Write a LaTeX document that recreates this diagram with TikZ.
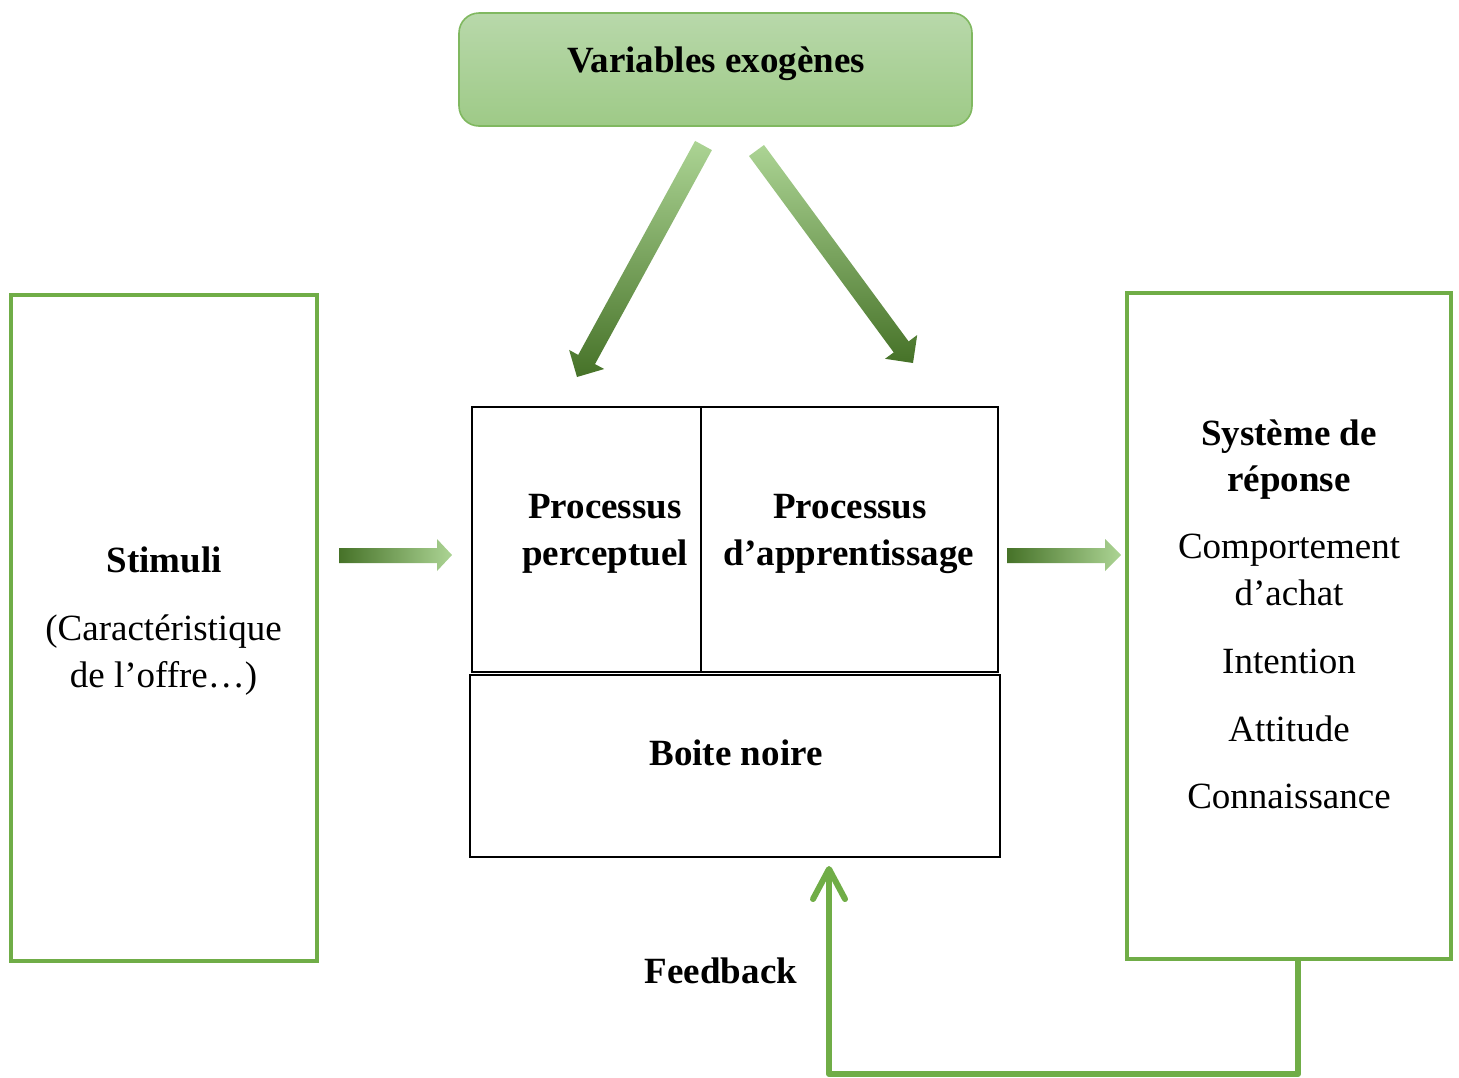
\documentclass[tikz,border=0pt]{standalone}
\usepackage{fontspec}
\setmainfont{Liberation Serif}
\usetikzlibrary{arrows.meta}

\definecolor{grn}{RGB}{112,173,71}
\definecolor{grnDark}{RGB}{70,114,40}
\definecolor{grnLight}{RGB}{172,212,148}
\definecolor{topFillA}{RGB}{184,216,170}
\definecolor{topFillB}{RGB}{158,202,135}
\definecolor{topEdge}{RGB}{128,184,96}

\begin{document}
\begin{tikzpicture}[x=0.5pt,y=-0.5pt,
  every node/.style={inner sep=0pt, outer sep=0pt},
  plaintext/.style={font=\fontsize{18.5}{22}\selectfont, anchor=base},
  boldtext/.style={font=\fontsize{18.5}{22}\selectfont\bfseries, anchor=base},
  greenbox/.style={draw=grn, line width=2pt},
  blackbox/.style={draw=black, line width=1.3pt},
  topbox/.style={draw=topEdge, line width=0.8pt, rounded corners=10pt,
                 top color=topFillA, bottom color=topFillB},
  hblock/.style={left color=grnDark, middle color=grn, right color=grnLight},
  vblock/.style={top color=grnLight, middle color=grn, bottom color=grnDark},
  feedline/.style={draw=grn, line width=3pt}
]
\useasboundingbox (0,0) rectangle (1459,1077);

% ---------- boxes ----------
\node (exo)  [topbox, minimum width=256.5pt, minimum height=56.5pt] at (715.5,69.5) {};
\node (stim) [greenbox, minimum width=153pt, minimum height=333pt] at (164,628) {};
\node (resp) [greenbox, minimum width=162pt, minimum height=333pt] at (1289,626) {};
\node (perc) [blackbox, minimum width=114.5pt, minimum height=132.5pt] at (586.5,539.5) {};
\node (appr) [blackbox, minimum width=148.5pt, minimum height=132.5pt] at (849.5,539.5) {};
\node (boite)[blackbox, minimum width=265pt, minimum height=91pt] at (735,766) {};

% ---------- texts ----------
\node (tExo)   [boldtext] at (716,72) {Variables exogènes};
\node (tPerc1) [boldtext] at (605,518) {Processus};
\node (tPerc2) [boldtext] at (605,565) {perceptuel};
\node (tAppr1) [boldtext] at (850,518) {Processus};
\node (tAppr2) [boldtext] at (849,565) {d’apprentissage};
\node (tBoite) [boldtext] at (736,765) {Boite noire};
\node (tStim)  [boldtext] at (164,572) {Stimuli};
\node (tCar)   [plaintext] at (163.5,640) {(Caractéristique};
\node (tOffre) [plaintext] at (163.5,687) {de l’offre…)};
\node (tSys1)  [boldtext] at (1289,445) {Système de};
\node (tSys2)  [boldtext] at (1289,491) {réponse};
\node (tComp1) [plaintext] at (1289,558) {Comportement};
\node (tComp2) [plaintext] at (1289,605) {d’achat};
\node (tInt)   [plaintext] at (1289,673) {Intention};
\node (tAtt)   [plaintext] at (1289,741) {Attitude};
\node (tConn)  [plaintext] at (1289,808) {Connaissance};
\node (tFeed)  [boldtext] at (721,983) {Feedback};

% ---------- block arrows ----------
% stimuli -> black box
\path[hblock] (339,548) -- (437,548) -- (437,539) -- (452,555) -- (437,571)
  -- (437,563) -- (339,563) -- cycle;
% black box -> response
\path[hblock] (1007,548) -- (1105,548) -- (1105,539) -- (1121,555) -- (1105,571)
  -- (1105,563) -- (1007,563) -- cycle;
% exogenous variables -> perceptual process
\path[vblock] (711.9,150.1) -- (595.0,364.1) -- (604.2,369.0) -- (577,377)
  -- (569.1,349.9) -- (578.2,354.9) -- (695.1,140.9) -- cycle;
% exogenous variables -> learning process
\path[vblock] (764.0,145.0) -- (908.6,341.4) -- (917.2,335.0) -- (913,363)
  -- (885.0,358.8) -- (893.7,352.4) -- (749.0,156.0) -- cycle;

% ---------- feedback loop ----------
\coordinate (fbR) at (1298,1074);
\coordinate (fbL) at (829,1074);
\draw[feedline, line join=round,
      -{Straight Barb[length=15pt, width=16pt, round]}, shorten >=4.5pt]
  (resp.south -| fbR) -- (fbR) -- (fbL) -- (boite.south -| fbL);
\end{tikzpicture}
\end{document}
